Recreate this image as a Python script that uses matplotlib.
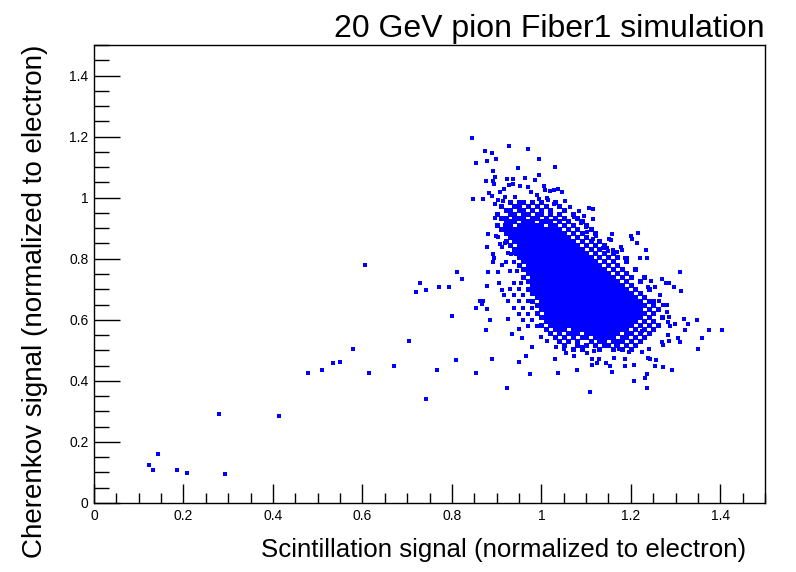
import matplotlib
matplotlib.use("Agg")
import matplotlib.pyplot as plt
import numpy as np
from matplotlib.ticker import MultipleLocator

# ---- points ---------------------------------------------------------------
# sparse points, one by one (scintillation, cherenkov)
OUT_X = [0.122, 0.131, 0.142, 0.185, 0.207, 0.279, 0.292, 0.413, 0.478, 0.509,
         0.534, 0.550, 0.579, 0.606, 0.615, 0.670, 0.704, 0.720, 0.729, 0.742,
         0.742, 0.767, 0.771, 0.794, 0.800, 0.809, 0.811, 0.823,
         # upper tail
         0.845, 0.928, 0.874, 0.890, 0.970, 0.854, 0.878, 0.899, 0.995, 0.947,
         1.031, 0.892, 0.995, 0.896, 0.893, 0.876, 0.923, 0.937, 0.963, 0.985,
         0.894, 0.928, 0.937, 0.952, 0.970, 1.006, 0.917, 0.908, 0.883, 0.890,
         0.977, 1.008, 1.019, 1.028, 1.037, 1.046, 0.990, 0.995, 0.847, 0.869,
         0.919, 0.941, 0.914, 0.903, 0.896, 1.013, 1.015, 1.001, 1.028, 1.053,
         0.896, 1.064, 1.084, 1.107, 1.116, 1.073, 1.095, 1.115, 0.881, 0.878,
         0.899, 0.903, 0.919, 0.908, 0.912, 0.932, 0.943, 0.894, 0.919, 0.921,
         # upper right edge
         1.089, 1.100, 1.100, 1.102, 1.122, 1.116, 1.158, 1.151, 1.156, 1.200,
         1.203, 1.216, 1.214, 1.234, 1.178, 1.181, 1.138, 1.147, 1.149, 1.160,
         1.169, 1.160, 1.187, 1.192, 1.221, 1.236,
         # right tail
         1.310, 1.270, 1.279, 1.286, 1.297, 1.312, 1.245, 1.254, 1.239, 1.266,
         1.252, 1.263, 1.281, 1.272, 1.281, 1.286, 1.283, 1.288, 1.319, 1.299,
         1.328, 1.322, 1.348, 1.375, 1.404, 1.359, 1.350, 1.306, 1.310, 1.283,
         1.286, 1.270, 1.272, 1.241, 1.225, 1.239, 1.243, 1.257, 1.254, 1.272,
         1.292, 1.236, 1.232, 1.236, 1.207, 1.207, 1.187, 1.187, 1.196, 1.162,
         1.158, 1.153, 1.144, 1.129, 1.124, 1.113, 1.113, 1.109, 1.225, 1.212,
         1.174, 1.167,
         # left and lower edge
         0.881, 0.878, 0.892, 0.892, 0.912, 0.903, 0.905, 0.912, 0.917, 0.863,
         0.869, 0.867, 0.854, 0.878, 0.885, 0.876, 0.925, 0.934, 0.957, 0.979,
         0.966, 0.950, 0.890, 0.854, 0.923, 0.975, 1.031, 1.037, 1.080, 1.073,
         1.055, 1.051, 0.999, 1.013, 1.033, 1.040, 1.053, 1.062, 1.091, 1.102,
         1.118,
         0.940, 0.955, 0.930, 0.950, 0.940, 0.960, 0.925, 0.950, 0.970, 0.940,
         0.960, 0.980, 0.950, 0.970, 0.960, 0.980, 0.970, 0.990, 0.950, 0.930,
         0.945, 0.920, 0.940, 0.925, 0.940]
OUT_Y = [0.126, 0.109, 0.162, 0.109, 0.099, 0.290, 0.096, 0.286, 0.427, 0.434,
         0.457, 0.463, 0.503, 0.778, 0.427, 0.450, 0.532, 0.690, 0.719, 0.696,
         0.342, 0.434, 0.706, 0.706, 0.611, 0.467, 0.755, 0.732,
         1.194, 1.168, 1.152, 1.145, 1.158, 1.112, 1.119, 1.126, 1.126, 1.096,
         1.099, 1.086, 1.073, 1.067, 1.053, 1.053, 1.060, 1.060, 1.063, 1.057,
         1.044, 1.040, 1.044, 1.037, 1.034, 1.037, 1.030, 1.017, 1.014, 1.004,
         1.017, 1.024, 1.021, 1.024, 1.027, 1.017, 1.008, 0.994, 0.994, 0.994,
         1.001, 1.001, 0.988, 0.991, 0.978, 0.998, 0.991, 0.985, 0.978, 0.988,
         0.932, 0.971, 0.955, 0.965, 0.962, 0.936, 0.939, 0.929, 0.880, 0.837,
         0.876, 0.870, 0.850, 0.847, 0.837, 0.817, 0.814, 0.804, 0.912, 0.899,
         0.916, 0.909, 0.903, 0.886, 0.873, 0.866, 0.880, 0.863, 0.860, 0.873,
         0.866, 0.883, 0.853, 0.830, 0.837, 0.827, 0.834, 0.834, 0.824, 0.830,
         0.821, 0.817, 0.804, 0.804, 0.804, 0.801,
         0.755, 0.732, 0.722, 0.719, 0.706, 0.693, 0.726, 0.709, 0.706, 0.680,
         0.660, 0.660, 0.647, 0.647, 0.627, 0.608, 0.594, 0.581, 0.604, 0.585,
         0.585, 0.565, 0.598, 0.568, 0.568, 0.542, 0.503, 0.539, 0.526, 0.549,
         0.532, 0.526, 0.516, 0.503, 0.493, 0.476, 0.473, 0.467, 0.450, 0.447,
         0.437, 0.421, 0.408, 0.378, 0.401, 0.453, 0.450, 0.470, 0.496, 0.476,
         0.430, 0.450, 0.460, 0.473, 0.457, 0.453, 0.473, 0.362, 0.562, 0.516,
         0.506, 0.516,
         0.758, 0.712, 0.817, 0.788, 0.778, 0.755, 0.719, 0.696, 0.680, 0.663,
         0.660, 0.653, 0.640, 0.637, 0.598, 0.568, 0.604, 0.552, 0.539, 0.512,
         0.480, 0.463, 0.470, 0.427, 0.378, 0.424, 0.470, 0.427, 0.434, 0.480,
         0.490, 0.506, 0.545, 0.529, 0.512, 0.529, 0.539, 0.526, 0.512, 0.490,
         0.499,
         0.720, 0.720, 0.700, 0.700, 0.680, 0.680, 0.660, 0.660, 0.660, 0.640,
         0.640, 0.640, 0.620, 0.620, 0.600, 0.600, 0.580, 0.580, 0.570, 0.760,
         0.760, 0.790, 0.790, 0.820, 0.820]

# dense core, read row by row (cherenkov value of the row -> scintillation values)
ROW_Y = [0.987, 0.974, 0.961, 0.948, 0.935, 0.922, 0.909, 0.896, 0.883, 0.870,
         0.857, 0.844, 0.831, 0.818, 0.805, 0.792, 0.779, 0.766, 0.753, 0.740,
         0.727, 0.714, 0.701, 0.688, 0.675, 0.662, 0.649, 0.636, 0.623, 0.610,
         0.597, 0.584, 0.571, 0.558, 0.545, 0.532, 0.519, 0.506]
ROW_X = [
    [0.93, 0.95, 0.96, 0.98, 1.00, 1.03],
    [0.91, 0.94, 0.95, 0.97, 0.99, 1.01, 1.04],
    [0.92, 0.93, 0.95, 0.96, 0.98, 1.00, 1.02, 1.05],
    [0.90, 0.93, 0.94, 0.96, 0.97, 0.99, 1.00, 1.02, 1.04, 1.07],
    [0.91, 0.92, 0.94, 0.95, 0.96, 0.98, 0.99, 1.01, 1.03, 1.05, 1.08],
    [0.92, 0.93, 0.94, 0.96, 0.97, 0.98, 1.00, 1.01, 1.02, 1.04, 1.06, 1.09],
    [0.90, 0.92, 0.93, 0.95, 0.96, 0.97, 0.98, 0.99, 1.00, 1.02, 1.03, 1.05,
     1.07, 1.10],
    [0.91, 0.93, 0.94, 0.95, 0.96, 0.97, 0.98, 0.99, 1.00, 1.01, 1.02, 1.03,
     1.04, 1.06, 1.08, 1.11],
    [0.92, 0.93, 0.94, 0.95, 0.96, 0.97, 0.98, 0.99, 1.00, 1.01, 1.02, 1.03,
     1.04, 1.05, 1.07, 1.09, 1.12],
    [0.93, 0.94, 0.95, 0.96, 0.97, 0.98, 0.99, 1.00, 1.01, 1.02, 1.03, 1.04,
     1.05, 1.06, 1.08, 1.10],
    [0.92, 0.94, 0.95, 0.96, 0.97, 0.98, 0.99, 1.00, 1.01, 1.02, 1.03, 1.04,
     1.05, 1.06, 1.07, 1.09, 1.11, 1.13],
    [0.93, 0.95, 0.96, 0.97, 0.98, 0.99, 1.00, 1.01, 1.02, 1.03, 1.04, 1.05,
     1.06, 1.07, 1.08, 1.10, 1.12, 1.14],
    [0.94, 0.95, 0.96, 0.97, 0.98, 0.99, 1.00, 1.01, 1.02, 1.03, 1.04, 1.05,
     1.06, 1.07, 1.08, 1.09, 1.11, 1.13],
    [0.95, 0.96, 0.97, 0.98, 0.99, 1.00, 1.01, 1.02, 1.03, 1.04, 1.05, 1.06,
     1.07, 1.08, 1.09, 1.10, 1.12, 1.14, 1.16],
    [0.95, 0.96, 0.97, 0.98, 0.99, 1.00, 1.01, 1.02, 1.03, 1.04, 1.05, 1.06,
     1.07, 1.08, 1.09, 1.10, 1.11, 1.13, 1.15, 1.17],
    [0.96, 0.97, 0.98, 0.99, 1.00, 1.01, 1.02, 1.03, 1.04, 1.05, 1.06, 1.07,
     1.08, 1.09, 1.10, 1.11, 1.12, 1.14, 1.16, 1.19],
    [0.95, 0.97, 0.98, 0.99, 1.00, 1.01, 1.02, 1.03, 1.04, 1.05, 1.06, 1.07,
     1.08, 1.09, 1.10, 1.11, 1.12, 1.13, 1.15, 1.17],
    [0.96, 0.97, 0.98, 0.99, 1.00, 1.01, 1.02, 1.03, 1.04, 1.05, 1.06, 1.07,
     1.08, 1.09, 1.10, 1.11, 1.12, 1.13, 1.14, 1.16, 1.18, 1.21],
    [0.97, 0.98, 0.99, 1.00, 1.01, 1.02, 1.03, 1.04, 1.05, 1.06, 1.07, 1.08,
     1.09, 1.10, 1.11, 1.12, 1.13, 1.14, 1.15, 1.17, 1.19],
    [0.96, 0.98, 0.99, 1.00, 1.01, 1.02, 1.03, 1.04, 1.05, 1.06, 1.07, 1.08,
     1.09, 1.10, 1.11, 1.12, 1.13, 1.14, 1.15, 1.16, 1.18, 1.20, 1.23],
    [0.97, 0.98, 0.99, 1.00, 1.01, 1.02, 1.03, 1.04, 1.05, 1.06, 1.07, 1.08,
     1.09, 1.10, 1.11, 1.12, 1.13, 1.14, 1.15, 1.16, 1.17, 1.19, 1.22],
    [0.98, 0.99, 1.00, 1.01, 1.02, 1.03, 1.04, 1.05, 1.06, 1.07, 1.08, 1.09,
     1.10, 1.11, 1.12, 1.13, 1.14, 1.15, 1.16, 1.17, 1.18, 1.20],
    [0.97, 0.98, 0.99, 1.00, 1.01, 1.02, 1.03, 1.04, 1.05, 1.06, 1.07, 1.08,
     1.09, 1.10, 1.11, 1.12, 1.13, 1.14, 1.15, 1.16, 1.17, 1.18, 1.19, 1.21,
     1.24],
    [0.98, 0.99, 1.00, 1.01, 1.02, 1.03, 1.04, 1.05, 1.06, 1.07, 1.08, 1.09,
     1.10, 1.11, 1.12, 1.13, 1.14, 1.15, 1.16, 1.17, 1.18, 1.19, 1.20, 1.22],
    [0.99, 1.00, 1.01, 1.02, 1.03, 1.04, 1.05, 1.06, 1.07, 1.08, 1.09, 1.10,
     1.11, 1.12, 1.13, 1.14, 1.15, 1.16, 1.17, 1.18, 1.19, 1.20, 1.21, 1.23],
    [0.98, 1.00, 1.01, 1.02, 1.03, 1.04, 1.05, 1.06, 1.07, 1.08, 1.09, 1.10,
     1.11, 1.12, 1.13, 1.14, 1.15, 1.16, 1.17, 1.18, 1.19, 1.20, 1.21, 1.22,
     1.24],
    [0.99, 1.00, 1.01, 1.02, 1.03, 1.04, 1.05, 1.06, 1.07, 1.08, 1.09, 1.10,
     1.11, 1.12, 1.13, 1.14, 1.15, 1.16, 1.17, 1.18, 1.19, 1.20, 1.21, 1.22,
     1.23, 1.25],
    [1.00, 1.01, 1.02, 1.03, 1.04, 1.05, 1.06, 1.07, 1.08, 1.09, 1.10, 1.11,
     1.12, 1.13, 1.14, 1.15, 1.16, 1.17, 1.18, 1.19, 1.20, 1.21, 1.22, 1.24,
     1.26],
    [0.99, 1.01, 1.02, 1.03, 1.04, 1.05, 1.06, 1.07, 1.08, 1.09, 1.10, 1.11,
     1.12, 1.13, 1.14, 1.15, 1.16, 1.17, 1.18, 1.19, 1.20, 1.21, 1.22, 1.23,
     1.25],
    [1.00, 1.01, 1.02, 1.03, 1.04, 1.05, 1.06, 1.07, 1.08, 1.09, 1.10, 1.11,
     1.12, 1.13, 1.14, 1.15, 1.16, 1.17, 1.18, 1.19, 1.20, 1.21, 1.22, 1.24,
     1.27],
    [1.01, 1.02, 1.03, 1.04, 1.05, 1.06, 1.07, 1.08, 1.09, 1.10, 1.11, 1.12,
     1.13, 1.14, 1.15, 1.16, 1.17, 1.18, 1.19, 1.20, 1.21, 1.23, 1.25],
    [1.00, 1.02, 1.03, 1.04, 1.05, 1.06, 1.07, 1.08, 1.09, 1.10, 1.11, 1.12,
     1.13, 1.14, 1.15, 1.16, 1.17, 1.18, 1.19, 1.20, 1.22, 1.24, 1.26],
    [1.01, 1.03, 1.04, 1.05, 1.07, 1.08, 1.09, 1.10, 1.11, 1.12, 1.13, 1.14,
     1.15, 1.16, 1.17, 1.18, 1.19, 1.21, 1.23, 1.25],
    [1.02, 1.04, 1.06, 1.07, 1.08, 1.10, 1.11, 1.12, 1.13, 1.14, 1.15, 1.16,
     1.17, 1.19, 1.20, 1.22, 1.24],
    [1.03, 1.05, 1.07, 1.09, 1.10, 1.12, 1.13, 1.14, 1.15, 1.16, 1.18, 1.19,
     1.21, 1.23],
    [1.04, 1.06, 1.08, 1.11, 1.13, 1.14, 1.16, 1.17, 1.18, 1.20, 1.22],
    [1.05, 1.08, 1.10, 1.12, 1.14, 1.15, 1.17, 1.19, 1.21],
    [1.07, 1.09, 1.13, 1.16, 1.18, 1.20],
]

TITLE = "20 GeV pion Fiber1 simulation"
XLABEL = "Scintillation signal (normalized to electron)"
YLABEL = "Cherenkov signal (normalized to electron)"

core_x = np.concatenate([np.asarray(r) for r in ROW_X])
core_y = np.concatenate([np.full(len(r), y) for r, y in zip(ROW_X, ROW_Y)])

W, H = 796, 572
fig = plt.figure(figsize=(W / 100, H / 100), dpi=100)
ax = fig.add_axes([94 / W, 1 - 503 / H, (765 - 94) / W, (503 - 45) / H])

# lone points at the reference size, the packed core slightly larger so the
# squares close up like in the original
ax.plot(OUT_X, OUT_Y, "s", color="#0000ff", ms=3.1, mew=0, ls="none")
core, = ax.plot(core_x, core_y, "s", color="#0000ff", ms=3.6, mew=0,
                ls="none")
core.set_snap(False)

ax.set_xlim(0, 1.5)
ax.set_ylim(0, 1.5)
ax.xaxis.set_major_locator(MultipleLocator(0.2))
ax.xaxis.set_minor_locator(MultipleLocator(0.05))
ax.yaxis.set_major_locator(MultipleLocator(0.2))
ax.yaxis.set_minor_locator(MultipleLocator(0.05))
ax.xaxis.set_major_formatter(plt.FuncFormatter(lambda v, p: f"{v:g}"))
ax.yaxis.set_major_formatter(plt.FuncFormatter(lambda v, p: f"{v:g}"))
ax.tick_params(which="both", direction="in", top=False, right=False,
               width=1, color="black", labelsize=10)
ax.xaxis.set_tick_params(which="major", length=14, pad=4)
ax.xaxis.set_tick_params(which="minor", length=7)
ax.yaxis.set_tick_params(which="major", length=19, pad=4)
ax.yaxis.set_tick_params(which="minor", length=11)
for lab in ax.get_xticklabels() + ax.get_yticklabels():
    lab.set_family(["Liberation Sans", "DejaVu Sans"])
for s in ax.spines.values():
    s.set_linewidth(1)

fig.text(765 / W, 1 - 37 / H, TITLE, ha="right", va="baseline", fontsize=23,
         family=["Liberation Sans", "DejaVu Sans"])
fig.text(746 / W, 1 - 557 / H, XLABEL, ha="right", va="baseline",
         fontsize=18.6, family=["Liberation Sans", "DejaVu Sans"])
fig.text(35 / W, 1 - 45 / H, YLABEL, ha="center", va="top", rotation=90,
         fontsize=20, family=["Liberation Sans", "DejaVu Sans"])

fig.savefig("out.png", dpi=100)
